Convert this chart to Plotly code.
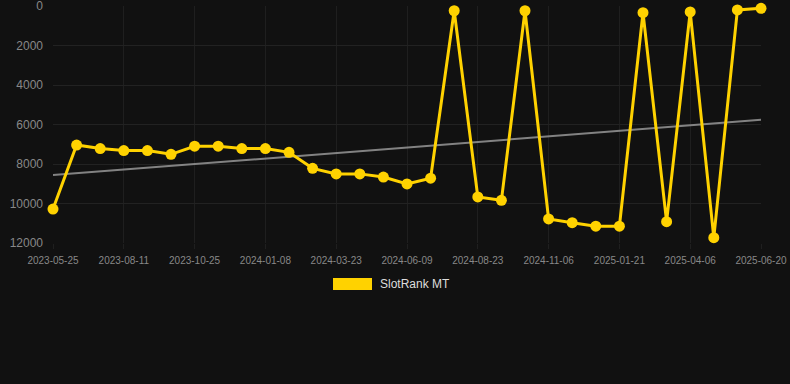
import numpy as np
import plotly.graph_objects as go

dates = [
    "2023-05-25", "2023-06-20", "2023-07-16", "2023-08-11", "2023-09-05", "2023-09-30",
    "2023-10-25", "2023-11-19", "2023-12-14", "2024-01-08", "2024-02-02", "2024-02-27",
    "2024-03-23", "2024-04-18", "2024-05-14", "2024-06-09", "2024-07-04", "2024-07-29",
    "2024-08-23", "2024-09-17", "2024-10-12", "2024-11-06", "2024-12-01", "2024-12-26",
    "2025-01-21", "2025-02-15", "2025-03-12", "2025-04-06", "2025-05-01", "2025-05-26",
    "2025-06-20",
]
rank = [
    10280, 7040, 7220, 7320, 7320, 7510, 7100, 7100, 7220, 7220, 7410, 8220,
    8500, 8500, 8660, 9010, 8720, 240, 9670, 9840, 240, 10780, 10970, 11150,
    11150, 340, 10920, 300, 11730, 200, 120,
]
tick_labels = [
    "2023-05-25", "2023-08-11", "2023-10-25", "2024-01-08", "2024-03-23", "2024-06-09",
    "2024-08-23", "2024-11-06", "2025-01-21", "2025-04-06", "2025-06-20",
]
y_ticks = [0, 2000, 4000, 6000, 8000, 10000, 12000]
y_tick_text = ["0", "2000", "4000", "6000", "8000", "10000", "12000"]
series_name = "SlotRank MT"

idx = np.arange(len(rank))
slope, intercept = np.polyfit(idx, rank, 1)
trend = slope * idx + intercept

GOLD = "#FFD200"
fig = go.Figure()
fig.add_trace(go.Scatter(
    x=dates, y=trend, mode="lines",
    line=dict(color="rgba(150,150,150,0.85)", width=2),
    hoverinfo="skip", showlegend=False,
))
fig.add_trace(go.Scatter(
    x=dates, y=rank, mode="lines+markers", name=series_name,
    line=dict(color=GOLD, width=3),
    marker=dict(color=GOLD, size=11),
    cliponaxis=False, showlegend=False,
))

fig.update_layout(
    width=790, height=384,
    margin=dict(l=53, r=29, t=6, b=141),
    paper_bgcolor="#111111", plot_bgcolor="#111111",
    font=dict(family="Liberation Sans, Arial, sans-serif", color="#888888"),
    xaxis=dict(
        type="category", range=[0, len(dates) - 1], automargin=False,
        tickmode="array", tickvals=tick_labels, ticktext=tick_labels,
        tickfont=dict(size=10, color="#888888"), ticklabelstandoff=3,
        showgrid=True, gridcolor="#1f1f1f", gridwidth=1,
        zeroline=False, showline=False,
        ticks="outside", ticklen=5, tickcolor="#1f1f1f",
    ),
    yaxis=dict(
        range=[12000, 0], tickmode="array", tickvals=y_ticks, ticktext=y_tick_text,
        automargin=False,
        tickfont=dict(size=12, color="#888888"), ticklabeloverflow="allow",
        showgrid=True, gridcolor="#222222", gridwidth=1,
        zeroline=False, showline=False, ticks="", ticklabelstandoff=9,
    ),
    shapes=[dict(
        type="rect", xref="paper", yref="paper",
        x0=(333 - 53) / 708, x1=(372 - 53) / 708,
        y0=-(278 - 243) / 237, y1=-(290 - 243) / 237,
        fillcolor=GOLD, line=dict(width=0),
    )],
    annotations=[dict(
        xref="paper", yref="paper",
        x=(378 - 53) / 708, y=-(284 - 243) / 237,
        xanchor="left", yanchor="middle", showarrow=False,
        text=series_name, font=dict(size=12, color="#dddddd"),
    )],
)

fig.write_html(
    "out.html",
    config={"displayModeBar": False},
    post_script="document.body.style.margin='0';document.body.style.background='#111111';",
)
